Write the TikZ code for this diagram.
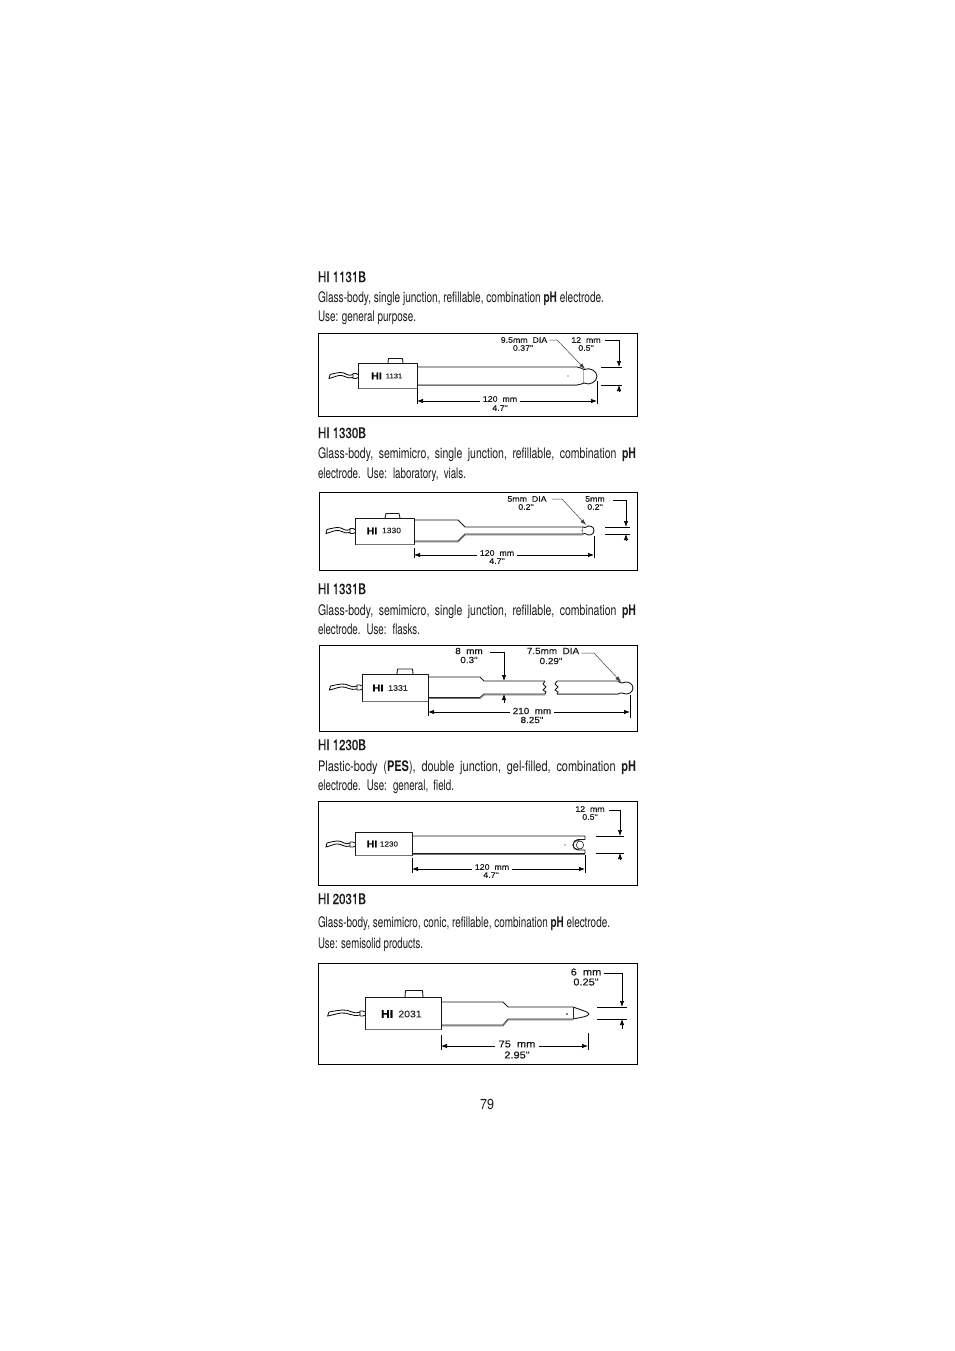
\documentclass[tikz,border=0pt]{standalone}
\usepackage{fontspec}
\usepackage{graphicx}
\setmainfont{TeX Gyre Heros}[FakeStretch=0.72]
\newfontfamily\lab{Liberation Sans}[FakeStretch=1.1,FakeBold=0.25]
\newfontfamily\hd{TeX Gyre Heros}[FakeStretch=0.72,FakeBold=0.7]
\usetikzlibrary{arrows.meta}
\tikzset{
  x=1pt,y=-1pt,
  panel/.style={draw=black,line width=0.9pt},
  body/.style={draw=black!90,line width=0.9pt,fill=white,line join=round},
  shade/.style={draw=black!55,line width=1.1pt},
  dimline/.style={draw=black,line width=0.7pt},
  dimarrow/.style={dimline,-{Latex[length=6pt,width=4.4pt]}},
  leader/.style={draw=black!75,line width=0.5pt,-{Latex[length=6pt,width=4pt]}},
  txt/.style={inner sep=0pt,outer sep=0pt,anchor=base west,text=black!90},
  dimlabel/.style={inner sep=0pt,font=\lab\fontsize{8}{9}\selectfont,text=black!90,align=center},
  biglabel/.style={dimlabel,font=\lab\fontsize{9}{10}\selectfont},
  hugelabel/.style={dimlabel,font=\lab\fontsize{10}{11.5}\selectfont},
  hilabel/.style={inner sep=0pt,font=\lab\bfseries\fontsize{9.5}{9}\selectfont},
  numlabel/.style={inner sep=0pt,font=\lab\fontsize{7}{8}\selectfont,text=black!85},
}
% a text line squeezed to the width measured in the reference
\newcommand{\pline}[4][]{\node[txt] (#2) at (318,#3) {\resizebox{#1}{\height}{\fontsize{14.5}{15}\selectfont #4}};}
\newcommand{\wideline}[4][]{\node[txt] (#2) at (318,#3) {\resizebox{#1}{\height}{\fontsize{14.5}{15}\selectfont\spaceskip=0.38em\relax #4}};}
\newcommand{\headline}[3]{\node[txt] (#1) at (318,#2) {\resizebox{48pt}{\height}{\hd\fontsize{14.5}{15}\selectfont #3}};}
\newcommand{\headbox}[5]{%
  \draw[body] (#1,#3) rectangle (#2,#4);
  \draw[shade] (#1+1,#4+0.8) -- (#2,#4+0.8);
  \coordinate (#5) at (#2,{(#3+#4)/2});
}
% x, y, horizontal scale of the wire
\newcommand{\wirefrom}[3]{%
  \begin{scope}[shift={(#1,#2)}]
    \draw[body] (0,0) -- (-2,-1) -- (-5,-1) -- (-5,4) -- (-2,4) -- (0,3);
    \begin{scope}[xshift=-5pt,xscale=#3]
    \draw[black,line width=0.8pt] (0,0) .. controls (-5,3) and (-8,-3) .. (-13,-2) .. controls (-17,-1.5) and (-19,-1) .. (-23,0);
    \draw[black,line width=0.8pt] (0,3) .. controls (-6,5) and (-9,0) .. (-14,1) .. controls (-18,1.8) and (-20,3) .. (-24,4) -- (-23,0);
    \end{scope}
  \end{scope}
}
\begin{document}
\begin{tikzpicture}
\useasboundingbox[fill=white] (0,0) rectangle (954,1351);

% ---------- texts
\headline{t1}{282}{HI 1131B}
\pline[286pt]{t1a}{302}{Glass-body, single junction, refillable, combination \textbf{pH} electrode.}
\pline[98pt]{t1b}{321}{Use: general purpose.}
\headline{t2}{438}{HI 1330B}
\wideline[318pt]{t2a}{458}{Glass-body, semimicro, single junction, refillable, combination \textbf{pH}}
\wideline[148pt]{t2b}{478}{electrode. Use: laboratory, vials.}
\headline{t3}{594}{HI 1331B}
\wideline[318pt]{t3a}{615}{Glass-body, semimicro, single junction, refillable, combination \textbf{pH}}
\wideline[102pt]{t3b}{634}{electrode. Use: flasks.}
\headline{t4}{750}{HI 1230B}
\wideline[318pt]{t4a}{771}{Plastic-body (\textbf{PES}), double junction, gel-filled, combination \textbf{pH}}
\wideline[136pt]{t4b}{790}{electrode. Use: general, field.}
\headline{t5}{904}{HI 2031B}
\pline[292pt]{t5a}{927}{Glass-body, semimicro, conic, refillable, combination \textbf{pH} electrode.}
\pline[105pt]{t5b}{948}{Use: semisolid products.}
\node[txt] (pg) at (480,1109) {\resizebox{14pt}{\height}{\fontsize{14.5}{15}\selectfont 79}};

% ---------- panel 1
\draw[panel] (318,333) rectangle (637,416);
\draw[body] (388,363) -- (388.5,358.5) -- (402.5,358.5) -- (403,363);
\wirefrom{358}{374.5}{1}
\draw[body] (417,367) -- (577,367) .. controls (580,367) and (582,369) .. (584,369.5) -- (584,383) .. controls (582,383.5) and (580,385) .. (577,385) -- (417,385) -- cycle;
\draw[shade] (417,385.8) -- (577,385.8);
\draw[body] (584,369.5) .. controls (590,367) and (597,371) .. (597,376.3) .. controls (597,381.5) and (590,386) .. (584,383);
\headbox{358}{417}{363}{388}{h1}
\fill (568,376) circle (0.7);
\node[hilabel] (hi1) at (376.5,376) {HI};
\node[numlabel] (n1) at (394,376) {1131};
\node[dimlabel] (a1) at (524,340) {9.5mm\ \ DIA};
\node[dimlabel] (b1) at (523,348) {0.37"};
\coordinate (p1) at (585,369);
\draw[leader] (a1.east) ++(2,0) -- (557,340) -- (p1);
\node[dimlabel] (c1) at (586,340) {12\ \ mm};
\node[dimlabel] (d1) at (586,348) {0.5"};
\coordinate (e1) at (619,367); \coordinate (f1) at (619,385);
\draw[dimarrow] (c1.east) ++(4,0) -| (e1);
\draw[dimline] (601,367) -- (622,367) (601,385) -- (622,385);
\draw[dimarrow] (619,392) -- (f1);
\node[dimlabel] (g1) at (500,399) {120\ \ mm};
\node[dimlabel] (i1) at (500,408) {4.7"};
\draw[dimline] (417,389) -- (417,404) (597,381) -- (597,404);
\draw[dimarrow] (g1.west) ++(-3,2) -- (417,401);
\draw[dimarrow] (g1.east) ++(3,2) -- (597,401);

% ---------- panel 2
\draw[panel] (319,492) rectangle (637,570);
\draw[body] (385,518) -- (386,513.5) -- (399,513.5) -- (400,518);
\wirefrom{355}{529.5}{1}
\draw[body] (414,520) -- (458,520) -- (465,527) -- (583,527) -- (583,534) -- (465,534) -- (458,541) -- (414,541) -- cycle;
\draw[shade] (414,541.8) -- (458,541.8) -- (465,534.8) -- (583,534.8);
\draw[body] (583,527) -- (585,527.5) .. controls (590,524) and (594,527) .. (594,530.5) .. controls (594,534) and (590,537) .. (585,533.5) -- (583,534);
\headbox{355}{414}{518}{544}{h2}
\fill (582,530.5) circle (0.5);
\node[hilabel] (hi2) at (372,531) {HI};
\node[numlabel,font=\lab\fontsize{7.8}{8}\selectfont] (n2) at (391.5,530.5) {1330};
\node[dimlabel] (a2) at (527,499) {5mm\ \ DIA};
\node[dimlabel] (b2) at (526,507) {0.2"};
\coordinate (p2) at (586,525);
\draw[leader] (a2.east) ++(5,0) -- (562,499) -- (p2);
\node[dimlabel] (c2) at (595,499) {5mm};
\node[dimlabel] (d2) at (595,507) {0.2"};
\coordinate (e2) at (626,527); \coordinate (f2) at (626,534);
\draw[dimarrow] (c2.east) ++(8,1) -| (e2);
\draw[dimline] (605,527) -- (630,527) (605,534) -- (630,534);
\draw[dimarrow] (626,541) -- (f2);
\node[dimlabel] (g2) at (497,553) {120\ \ mm};
\node[dimlabel] (i2) at (497,561) {4.7"};
\draw[dimline] (414,548) -- (414,558) (594,536) -- (594,558);
\draw[dimarrow] (g2.west) ++(-3,2) -- (414,555);
\draw[dimarrow] (g2.east) ++(3,2) -- (594,555);

% ---------- panel 3
\draw[panel] (319,645) rectangle (637,731);
\draw[black,line width=1.6pt] (384,731.5) -- (403,731.5);
\draw[body] (397,674) -- (397.5,669) -- (412.5,669) -- (413,674);
\wirefrom{362}{686}{1.15}
\draw[body] (428,677) -- (480,677) -- (484,681) -- (545,681) (545,694) -- (484,694) -- (480,697.5) -- (428,697.5);
\draw[shade] (428,698.3) -- (480,698.3) -- (484,694.8) -- (545,694.8);
\draw[body,fill=none] (545,681) -- (543,684) -- (546,687) -- (543,690) -- (546,692) -- (545,694);
\draw[body,fill=none] (557,681) -- (555,684) -- (558,687) -- (555,690) -- (558,692) -- (557,694);
\draw[body,fill=none] (557,681) -- (618,681) .. controls (620,681) and (620,684) .. (622,683) .. controls (628,680) and (633,684) .. (633,688) .. controls (633,692) and (628,696) .. (622,693) .. controls (620,692) and (620,694) .. (618,694) -- (557,694);
\draw[shade] (557,694.8) -- (618,694.8);
\headbox{362}{428}{674}{701}{h3}
\node[hilabel,font=\lab\bfseries\fontsize{10}{9}\selectfont] (hi3) at (378,688) {HI};
\node[numlabel,font=\lab\fontsize{8}{8}\selectfont] (n3) at (398,688) {1331};
\node[biglabel] (a3) at (469,651) {8\ \ mm};
\node[biglabel] (b3) at (469,660) {0.3"};
\coordinate (e3) at (504,681); \coordinate (f3) at (504,694);
\draw[dimarrow] (a3.east) ++(7,1) -| (e3);
\draw[dimarrow] (504,703) -- (f3);
\node[biglabel] (a4) at (553,651) {7.5mm\ \ DIA};
\node[biglabel] (b4) at (551,661) {0.29"};
\coordinate (p3) at (621,682);
\draw[leader] (a4.east) ++(2,2) -- (594,653) -- (p3);
\node[biglabel] (g3) at (532,711) {210\ \ mm};
\node[biglabel] (i3) at (532,720) {8.25"};
\draw[dimline] (428,700) -- (428,716) (630,695) -- (630,718);
\draw[dimarrow] (g3.west) ++(-3,1) -- (428,712);
\draw[dimarrow] (g3.east) ++(3,1) -- (630,712);

% ---------- panel 4
\draw[panel] (318,801) rectangle (637,885);
\wirefrom{355}{843}{1}
\draw[body] (412,836) -- (585,836) -- (585,839.5) -- (578,839.5) .. controls (575,839.5) and (573,842) .. (573,845) .. controls (573,848) and (575,850) .. (578,850) -- (585,850) -- (585,853.5) -- (412,853.5) -- cycle;
\draw[shade] (412,854.3) -- (585,854.3);
\draw[black!85,line width=0.7pt] (578,845) circle (5.2 and 4.5);
\draw[black!85,line width=0.6pt,fill=white] (580,845) circle (3.6 and 4);
\headbox{355}{412}{832}{855}{h4}
\fill (565,845) circle (0.7);
\node[hilabel] (hi4) at (372,844) {HI};
\node[numlabel,font=\lab\fontsize{7.4}{8}\selectfont] (n4) at (389,844) {1230};
\node[dimlabel] (c5) at (590,809) {12\ \ mm};
\node[dimlabel] (d5) at (590,817) {0.5"};
\coordinate (e5) at (620,836); \coordinate (f5) at (620,853);
\draw[dimarrow] (c5.east) ++(4,1) -| (e5);
\draw[dimline] (596,836) -- (624,836) (596,853) -- (624,853);
\draw[dimarrow] (620,860) -- (f5);
\node[dimlabel] (g5) at (492,867) {120\ \ mm};
\node[dimlabel] (i5) at (491,875) {4.7"};
\draw[dimline] (412,858) -- (412,873) (585,855) -- (585,873);
\draw[dimarrow] (g5.west) ++(-3,2) -- (412,869);
\draw[dimarrow] (g5.east) ++(3,2) -- (585,869);

% ---------- panel 5
\draw[panel] (318,963) rectangle (637,1064);
\draw[body] (405,997) -- (405.5,990.5) -- (422.5,990.5) -- (423,997);
\wirefrom{365}{1012}{1.35}
\draw[body] (441,1002) -- (503,1002) -- (508,1007) -- (573,1007) -- (583,1010.5) .. controls (587,1012) and (589,1013) .. (589,1014) .. controls (589,1015) and (587,1016) .. (583,1017) -- (573,1019) -- (508,1019) -- (503,1025) -- (441,1025) -- cycle;
\draw[shade] (441,1025.8) -- (503,1025.8) -- (508,1019.8) -- (573,1019.8);
\draw[black!85,line width=0.7pt] (573,1007) -- (573,1019);
\headbox{365}{441}{997}{1029}{h5}
\fill (567,1014) circle (0.8);
\node[hilabel,font=\lab\bfseries\fontsize{11}{11}\selectfont] (hi5) at (387,1014) {HI};
\node[numlabel,font=\lab\fontsize{9.5}{11}\selectfont] (n5) at (410,1014) {2031};
\node[hugelabel] (c6) at (586,972) {6\ \ mm};
\node[hugelabel] (d6) at (586,982) {0.25"};
\coordinate (e6) at (622,1007); \coordinate (f6) at (622,1019);
\draw[dimarrow] (c6.east) ++(3,1) -| (e6);
\draw[dimline] (597,1007) -- (627,1007) (597,1019) -- (627,1019);
\draw[dimarrow] (622,1029) -- (f6);
\node[hugelabel] (g6) at (517,1044) {75\ \ mm};
\node[hugelabel] (i6) at (517,1055) {2.95"};
\draw[dimline] (441,1035) -- (441,1050) (588,1033) -- (588,1050);
\draw[dimarrow] (g6.west) ++(-3,2) -- (441,1046);
\draw[dimarrow] (g6.east) ++(3,2) -- (588,1046);
\end{tikzpicture}
\end{document}
